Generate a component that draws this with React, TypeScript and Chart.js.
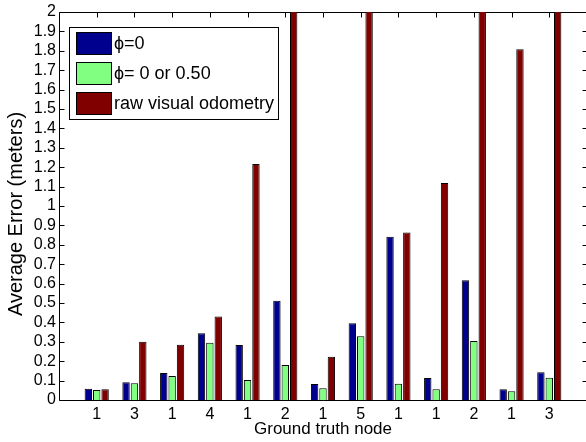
import { useEffect, useRef } from 'react';
import { Chart, registerables } from 'chart.js';

Chart.register(...registerables);

const categories = ['1', '3', '1', '4', '1', '2', '1', '5', '1', '1', '2', '1', '3'];
const phiZero = [0.058, 0.091, 0.139, 0.344, 0.284, 0.512, 0.082, 0.395, 0.842, 0.113, 0.617, 0.055, 0.143];
const phiZeroOrHalf = [0.052, 0.086, 0.124, 0.295, 0.103, 0.18, 0.06, 0.328, 0.084, 0.055, 0.304, 0.045, 0.115];
const rawVisualOdometry = [0.055, 0.3, 0.285, 0.431, 1.216, 2.6, 0.223, 2.6, 0.864, 1.118, 2.6, 1.808, 2.6];
const seriesLabels = ['\u03d5=0', '\u03d5= 0 or 0.50', 'raw visual odometry'];
const seriesColors = ['#00008F', '#80FF80', '#800000'];
const yMin = 0;
const yMax = 2;
const yStep = 0.1;
const xTitle = 'Ground truth node';
const yTitle = 'Average Error (meters)';

const FONT = 'Arial, "Liberation Sans", Helvetica, sans-serif';

export default function App() {
  const ref = useRef<HTMLCanvasElement>(null);

  useEffect(() => {
    document.body.style.margin = '0';
    document.body.style.overflow = 'hidden';
    const canvas = ref.current!;

    const framePlugin = {
      id: 'matlabFrame',
      beforeDatasetsDraw(chart: any) {
        const { ctx, chartArea } = chart;
        const { left, right, top, bottom } = chartArea;
        const x = chart.scales.x;
        const y = chart.scales.y;
        ctx.save();
        ctx.strokeStyle = '#000';
        ctx.lineWidth = 1;
        ctx.beginPath();
        const L = Math.round(left) + 0.5;
        const R = Math.round(right) + 0.5;
        const T = Math.round(top) + 0.5;
        const B = Math.round(bottom) + 0.5;
        ctx.rect(L, T, R - L, B - T);
        const tl = 5;
        for (let v = yMin; v <= yMax + 1e-9; v += yStep) {
          const py = Math.round(y.getPixelForValue(v)) + 0.5;
          ctx.moveTo(L, py);
          ctx.lineTo(L + tl, py);
          ctx.moveTo(R, py);
          ctx.lineTo(R - tl, py);
        }
        categories.forEach((_, i) => {
          const px = Math.round(x.getPixelForValue(i + 1)) + 0.5;
          ctx.moveTo(px, T);
          ctx.lineTo(px, T + tl);
          ctx.moveTo(px, B);
          ctx.lineTo(px, B - tl);
        });
        ctx.stroke();
        ctx.restore();
      },
      afterDraw(chart: any) {
        const { ctx } = chart;
        ctx.save();
        ctx.translate(16.5, 214);
        ctx.rotate(-Math.PI / 2);
        ctx.fillStyle = '#000';
        ctx.font = `20px ${FONT}`;
        ctx.textAlign = 'center';
        ctx.textBaseline = 'middle';
        ctx.fillText(yTitle, 0, 0);
        ctx.restore();

        ctx.save();
        const bx = 69.5, by = 27.5, bw = 209, bh = 92;
        ctx.fillStyle = '#fff';
        ctx.fillRect(bx, by, bw, bh);
        ctx.strokeStyle = '#000';
        ctx.lineWidth = 1;
        ctx.strokeRect(bx, by, bw, bh);
        chart.data.datasets.forEach((ds: any, i: number) => {
          const sy = 32.5 + 30 * i;
          ctx.fillStyle = ds.backgroundColor;
          ctx.fillRect(76.5, sy, 35, 22);
          ctx.strokeStyle = '#000';
          ctx.strokeRect(76.5, sy, 35, 22);
          ctx.fillStyle = '#000';
          ctx.font = `18px ${FONT}`;
          ctx.textBaseline = 'middle';
          ctx.textAlign = 'left';
          ctx.fillText(ds.label, 114, sy + 12);
        });
        ctx.restore();
      },
    };

    const mk = (arr: number[], i: number) => ({
      label: seriesLabels[i],
      data: arr.map((v, k) => ({ x: k + 1, y: v })),
      backgroundColor: seriesColors[i],
      borderColor: '#000',
      borderWidth: 1,
      clip: 0,
    });

    const chart = new Chart(canvas, {
      type: 'bar',
      data: {
        datasets: [mk(phiZero, 0), mk(phiZeroOrHalf, 1), mk(rawVisualOdometry, 2)],
      },
      options: {
        animation: false,
        responsive: false,
        devicePixelRatio: 1,
        layout: { padding: { top: 12, right: 13, left: 0, bottom: 0 } },
        datasets: { bar: { categoryPercentage: 0.667, barPercentage: 0.88 } },
        plugins: { legend: { display: false }, tooltip: { enabled: false } },
        scales: {
          x: {
            type: 'linear',
            min: 0,
            max: 14,
            offset: false,
            grid: { display: false, drawTicks: false },
            border: { display: false },
            ticks: {
              stepSize: 1,
              autoSkip: false,
              maxRotation: 0,
              padding: 5,
              color: '#000',
              font: { family: FONT, size: 16 },
              callback: (v: any) => categories[Number(v) - 1] ?? '',
            },
            title: {
              display: true,
              text: xTitle,
              color: '#000',
              font: { family: FONT, size: 17 },
              padding: { top: 0, bottom: 2 },
            },
            afterFit: (s: any) => { s.height = 42; s.paddingLeft = 0; s.paddingRight = 0; },
          },
          y: {
            min: yMin,
            max: yMax,
            grid: { display: false, drawTicks: false },
            border: { display: false },
            ticks: {
              stepSize: yStep,
              autoSkip: false,
              padding: 3,
              color: '#000',
              font: { family: FONT, size: 16 },
              callback: (v: any) => String(Math.round(Number(v) * 10) / 10),
            },
            afterFit: (s: any) => { s.width = 59; s.paddingTop = 0; s.paddingBottom = 0; },
          },
        },
      },
      plugins: [framePlugin],
    } as any);

    return () => chart.destroy();
  }, []);

  return (
    <div style={{ width: 600, height: 442, overflow: 'hidden' }}>
      <canvas ref={ref} width={600} height={442} style={{ display: 'block', width: 600, height: 442 }} />
    </div>
  );
}
